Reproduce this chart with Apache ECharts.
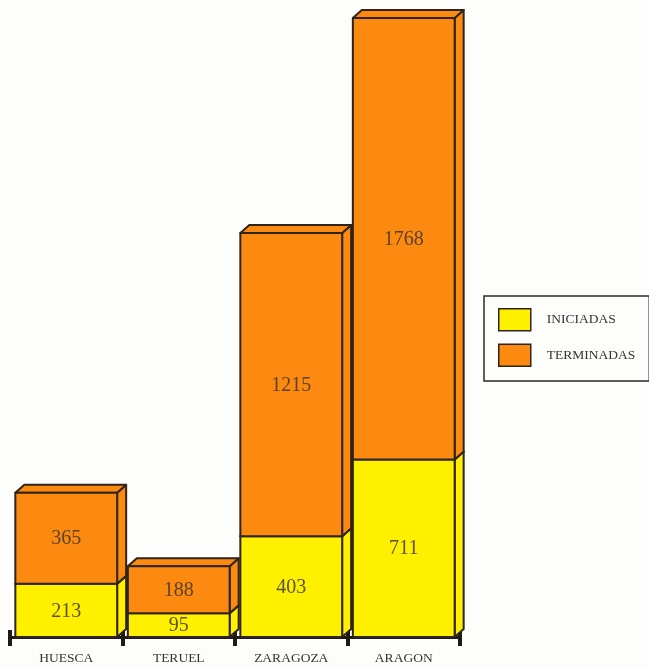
<!DOCTYPE html>
<html>
<head>
<meta charset="utf-8">
<script src="https://cdn.jsdelivr.net/npm/echarts@6/dist/echarts.min.js"></script>
<style>
  html, body { margin: 0; padding: 0; background: #fdfdfb; }
  #chart { width: 649px; height: 667px; }
</style>
</head>
<body>
<div id="chart"></div>
<script>
const categories = ['HUESCA', 'TERUEL', 'ZARAGOZA', 'ARAGON'];
const iniciadas = [213, 95, 403, 711];
const terminadas = [365, 188, 1215, 1768];

const YELLOW = '#fff000';
const ORANGE = '#fc8a10';
const EDGE = '#2e2418';
const DX = 9, DY = 8;

const totals = categories.map((c, i) => iniciadas[i] + terminadas[i]);

// [category, start, end, value]
const lowData = iniciadas.map((v, i) => [i, 0, v, v]);
const highData = terminadas.map((v, i) => [i, iniciadas[i], iniciadas[i] + v, v]);

function makeBox(color, textColor) {
    return function (params, api) {
        const cat = api.value(0);
        const p0 = api.coord([cat, api.value(1)]);
        const p1 = api.coord([cat, api.value(2)]);
        const band = api.size([1, 0])[0];
        const w = band * 0.905;
        const x = p0[0] - w / 2;
        const yb = p0[1], yt = p1[1];
        const line = {stroke: EDGE, lineWidth: 2, lineJoin: 'round'};
        return {
            type: 'group',
            children: [
                {
                    type: 'polygon',
                    shape: {points: [[x + w, yb], [x + w + DX, yb - DY], [x + w + DX, yt - DY], [x + w, yt]]},
                    style: Object.assign({fill: color}, line)
                },
                {
                    type: 'polygon',
                    shape: {points: [[x, yt], [x + DX, yt - DY], [x + w + DX, yt - DY], [x + w, yt]]},
                    style: Object.assign({fill: color}, line)
                },
                {
                    type: 'rect',
                    shape: {x: x, y: yt, width: w, height: yb - yt},
                    style: Object.assign({fill: color}, line)
                },
                {
                    type: 'text',
                    x: x + w / 2,
                    y: (yt + yb) / 2 + 1,
                    style: {
                        text: String(api.value(3)),
                        fill: textColor,
                        font: '20px "Liberation Serif", "DejaVu Serif", serif',
                        align: 'center',
                        verticalAlign: 'middle'
                    }
                }
            ]
        };
    };
}

const chart = echarts.init(document.getElementById('chart'));

chart.setOption({
    backgroundColor: '#fdfdfb',
    animation: false,
    grid: {left: 10, right: 189, top: 18, bottom: 30},
    legend: {
        orient: 'vertical',
        left: 484,
        top: 296,
        padding: [12, 14, 14, 14],
        borderColor: '#2a2a2a',
        borderWidth: 1.5,
        itemWidth: 32,
        itemHeight: 22,
        itemGap: 12,
        textStyle: {
            fontFamily: '"Liberation Serif", serif',
            fontSize: 13.5,
            color: '#333',
            padding: [0, 0, 0, 11]
        },
        data: [
            {name: 'INICIADAS', icon: 'rect', itemStyle: {color: YELLOW, borderColor: EDGE, borderWidth: 1.5}},
            {name: 'TERMINADAS', icon: 'rect', itemStyle: {color: ORANGE, borderColor: EDGE, borderWidth: 1.5}}
        ]
    },
    xAxis: [
        {
            type: 'category',
            data: categories,
            axisLine: {show: true, lineStyle: {color: '#1e1a16', width: 3}},
            axisTick: {show: true, interval: 0, length: 9, lineStyle: {color: '#1e1a16', width: 4}},
            axisLabel: {
                margin: 14,
                fontFamily: '"Liberation Serif", serif',
                fontSize: 13.5,
                color: '#333'
            }
        },
        {
            type: 'category',
            data: categories,
            position: 'bottom',
            axisLine: {show: false},
            axisTick: {show: true, interval: 0, inside: true, length: 7, lineStyle: {color: '#1e1a16', width: 4}},
            axisLabel: {show: false}
        }
    ],
    yAxis: {
        type: 'value',
        min: 0,
        max: Math.max.apply(null, totals),
        show: false,
        splitLine: {show: false}
    },
    series: [
        {
            name: 'INICIADAS',
            type: 'custom',
            itemStyle: {color: YELLOW},
            encode: {x: 0, y: [1, 2]},
            renderItem: makeBox(YELLOW, '#5a5230'),
            data: lowData,
            z: 2
        },
        {
            name: 'TERMINADAS',
            type: 'custom',
            itemStyle: {color: ORANGE},
            encode: {x: 0, y: [1, 2]},
            renderItem: makeBox(ORANGE, '#5c4228'),
            data: highData,
            z: 3
        }
    ]
});
</script>
</body>
</html>
